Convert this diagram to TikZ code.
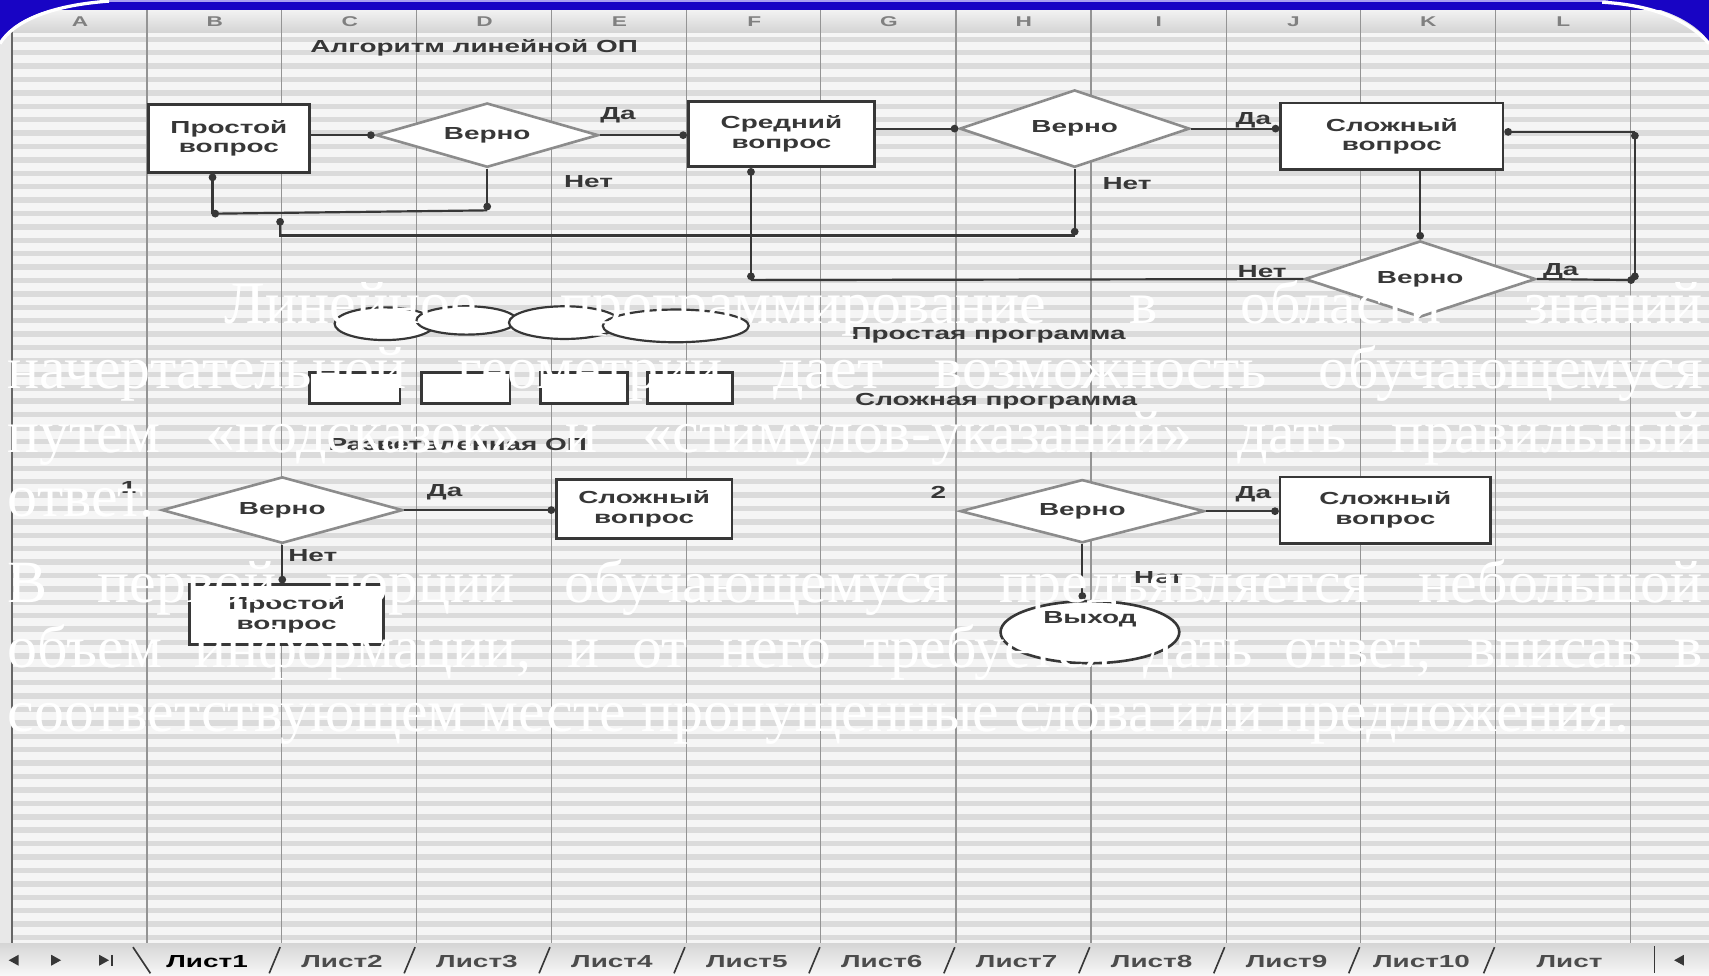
\documentclass[tikz,border=0pt]{standalone}
\usepackage{fontspec}
\setmainfont{Liberation Serif}
\newfontfamily\xlfont{Liberation Sans}[FakeStretch=1.6]
\usetikzlibrary{shapes.geometric,arrows.meta}

\definecolor{slideblue}{RGB}{24,4,196}
\definecolor{slidelav}{RGB}{170,160,240}
\definecolor{ink}{RGB}{55,55,55}

\tikzset{
  lbl/.style={font=\xlfont\bfseries\fontsize{16}{18}\selectfont, text=ink, inner sep=0pt},
  box/.style={lbl, draw=ink, line width=2.4pt, fill=white, align=center},
  dia/.style={lbl, diamond, aspect=3.4, draw=black!45, line width=2.4pt, fill=white},
  term/.style={lbl, ellipse, draw=ink, line width=2.4pt, fill=white, text depth=26pt},
  conn/.style={draw=ink, line width=2pt},
  dotend/.style={-{Circle[length=7pt,width=7pt]}},
  dotstart/.style={{Circle[length=7pt,width=7pt]}-},
  dotboth/.style={{Circle[length=7pt,width=7pt]}-{Circle[length=7pt,width=7pt]}},
  rowline/.style={black!14, line width=5pt},
  colline/.style={black!42, line width=1.2pt},
  hdr/.style={font=\xlfont\bfseries\fontsize{13}{14}\selectfont, text=black!50, inner sep=0pt},
  sheettab/.style={font=\xlfont\bfseries\fontsize{16}{18}\selectfont, text=black!70, inner sep=0pt},
  body/.style={font=\fontsize{55}{60}\selectfont, text=white, anchor=base west, inner sep=0pt}
}

\begin{document}
\begin{tikzpicture}[x=1pt,y=-1pt]
    \useasboundingbox (0,0) rectangle (1568,895);
    \fill[black!4] (0,0) rectangle (1568,895);

    %%%%%%%%%%%%%%%%%%% Sheet grid %%%%%%%%%%%%%%%%%%%%%%%%%%%%%%%
    \foreach \r in {0,...,67}
        \draw[rowline] (0,{36+12.3*\r}) -- (1568,{36+12.3*\r});
    \fill[top color=black!5,bottom color=black!17] (0,9) rectangle (1568,30);
    \fill[black!9] (0,30) rectangle (11,866);
    \foreach \c in {135,258,382,506,630,753,877,1001,1125,1248,1372,1496}
        \draw[colline] (\c,9) -- (\c,866);
    \draw[black!60, line width=1.5pt] (11,9) -- (11,866);
    \foreach \l [count=\i] in {A,...,L}
        \node[hdr] (h\i) at ({73.5+123.7*(\i-1)},20) {\l};

    %%%%%%%%%%%%%%%%%%% Linear algorithm %%%%%%%%%%%%%%%%%%%%%%%%%
    \node[lbl] (title) at (435,44) {Алгоритм линейной ОП};
    \node[box, minimum width=148pt, minimum height=62pt] (q1) at (210,127) {Простой\\вопрос};
    \node[dia, minimum width=204pt, minimum height=59pt] (d1) at (447,124) {Верно};
    \node[box, minimum width=171pt, minimum height=60pt] (q2) at (717,123) {Средний\\вопрос};
    \node[dia, minimum width=211pt, minimum height=71pt] (d2) at (986,118) {Верно};
    \node[box, minimum width=204pt, minimum height=61pt] (q3) at (1277,125) {Сложный\\вопрос};
    \node[dia, minimum width=212pt, minimum height=70pt] (d3) at (1303,256) {Верно};

    \node[lbl] (y1) at (567,106) {Да};
    \node[lbl] (n1) at (540,167) {Нет};
    \node[lbl] (y2) at (1150,110) {Да};
    \node[lbl] (n2) at (1034,168) {Нет};
    \node[lbl] (n3) at (1158,249) {Нет};
    \node[lbl] (y3) at (1432,249) {Да};

    \draw[conn,dotend] (q1.east |- d1.west) -- (d1.west);
    \draw[conn,dotend] (d1.east) -- (d1.east -| q2.west);
    \draw[conn,dotend] (q2.east |- d2.west) -- (d2.west);
    \draw[conn,dotend] (d2.east) -- (d2.east -| q3.west);

    % returns
    \coordinate (j1) at (201,196);
    \coordinate (j2) at (447,193);
    \draw[conn,dotboth] ([xshift=-15pt]q1.south) |- (j1);
    \draw[conn,dotend] (d1.south) -- (j2);
    \draw[conn] (j2) -- (j1);
    \coordinate (j3) at (257,200);
    \coordinate (j4) at (986,216);
    \draw[conn,dotstart] (j3) |- (j4);
    \draw[conn,dotstart] (j4) -- (d2.south);
    \coordinate (j5) at (689,257);
    \draw[conn,dotboth] (q2.south -| j5) -- (j5);
    \draw[conn] (j5) -- (d3.west);
    \draw[conn,dotend] (q3.south -| d3.north) -- (d3.north);
    \coordinate (j6) at (1500,257);
    \coordinate (j7) at (1500,121);
    \draw[conn,dotend] (d3.east) -- (j6);
    \draw[conn,dotboth] (j6) -- (j7);
    \draw[conn,dotend] (j7) -- (j7 -| q3.east);

    %%%%%%%%%%%%%%%%%%% Programs %%%%%%%%%%%%%%%%%%%%%%%%%%%%%%%%%
    \draw[ink, line width=2pt, fill=white] (353,297) ellipse [x radius=46, y radius=15];
    \draw[ink, line width=2pt, fill=white] (428,294) ellipse [x radius=46, y radius=13];
    \draw[ink, line width=2pt, fill=white] (518,296) ellipse [x radius=51, y radius=15];
    \draw[ink, line width=2pt, fill=white] (620,299) ellipse [x radius=67, y radius=15];
    \node[lbl] (prog1) at (907,308) {Простая программа};
    \draw[ink, line width=2.4pt, fill=white] (284,342) rectangle (367,370);
    \draw[ink, line width=2.4pt, fill=white] (387,342) rectangle (468,370);
    \draw[ink, line width=2.4pt, fill=white] (496,342) rectangle (576,370);
    \draw[ink, line width=2.4pt, fill=white] (594,342) rectangle (672,370);
    \node[lbl] (prog2) at (914,368) {Сложная программа};
    \node[lbl] (title2) at (420,408) {Разветвленная ОП};

    %%%%%%%%%%%%%%%%%%% Branch 1 %%%%%%%%%%%%%%%%%%%%%%%%%%%%%%%%%
    \node[lbl] (num1) at (118,447) {1};
    \node[dia, minimum width=221pt, minimum height=61pt] (d4) at (259,468) {Верно};
    \node[box, minimum width=161pt, minimum height=54pt] (q4) at (591,467) {Сложный\\вопрос};
    \node[box, minimum width=178pt, minimum height=55pt] (q5) at (263,564) {Простой\\вопрос};
    \node[lbl] (y4) at (408,452) {Да};
    \node[lbl] (n4) at (287,510) {Нет};
    \draw[conn,dotend] (d4.east) -- (d4.east -| q4.west);
    \draw[conn,dotend] (d4.south) -- (d4.south |- q5.north);

    %%%%%%%%%%%%%%%%%%% Branch 2 %%%%%%%%%%%%%%%%%%%%%%%%%%%%%%%%%
    \node[lbl] (num2) at (861,452) {2};
    \node[dia, minimum width=224pt, minimum height=58pt] (d5) at (993,469) {Верно};
    \node[box, minimum width=193pt, minimum height=61pt] (q6) at (1271,468) {Сложный\\вопрос};
    \node[term, minimum width=164pt, minimum height=57pt] (ex) at (1000,580) {Выход};
    \node[lbl] (y5) at (1150,453) {Да};
    \node[lbl] (n5) at (1063,530) {Нет};
    \draw[conn,dotend] (d5.east) -- (d5.east -| q6.west);
    \draw[conn,dotend] (d5.south) -- (d5.south |- ex.north);

    %%%%%%%%%%%%%%%%%%% Sheet tabs %%%%%%%%%%%%%%%%%%%%%%%%%%%%%%%
    \fill[top color=black!16,bottom color=black!3] (0,866) rectangle (1568,895);
    \fill[ink] (8,881) -- (17,876) -- (17,886) -- cycle;
    \fill[ink] (56,881) -- (47,876) -- (47,886) -- cycle;
    \fill[ink] (100,881) -- (91,876) -- (91,886) -- cycle;
    \draw[ink, line width=1.5pt] (103,876) -- (103,886);
    \draw[ink, line width=1.5pt] (122,869) -- (138,893);
    \node[sheettab, text=black] (t1) at (190,882) {Лист1};
    \foreach \i in {2,...,10}
        \node[sheettab] (t\i) at ({190+123.8*(\i-1)},882) {Лист\i};
    \node[sheettab] (t11) at (1440,882) {Лист};
    \foreach \i in {2,...,11}
        \draw[ink, line width=1.5pt] ({257+123.8*(\i-2)},869) -- ({247+123.8*(\i-2)},893);
    \draw[ink, line width=1.5pt] (1518,868) -- (1518,893);
    \fill[ink] (1536,881) -- (1545,876) -- (1545,886) -- cycle;

    %%%%%%%%%%%%%%%%%%% Slide frame %%%%%%%%%%%%%%%%%%%%%%%%%%%%%%
    \fill[slideblue] (0,0) rectangle (1568,9);
    \fill[slidelav] (95,0) rectangle (1475,2);
    \fill[slideblue] (0,0) -- (100,0) .. controls (45,4) and (12,18) .. (0,38) -- cycle;
    \draw[white, line width=3pt] (100,1) .. controls (45,5) and (12,20) .. (0,40);
    \fill[slideblue] (1470,0) .. controls (1525,3) and (1555,20) .. (1568,38) -- (1568,0) -- cycle;
    \draw[white, line width=3pt] (1470,2) .. controls (1523,5) and (1552,22) .. (1568,40);

    %%%%%%%%%%%%%%%%%%% Text %%%%%%%%%%%%%%%%%%%%%%%%%%%%%%%%%%%%%
    \node[body] (l1) at (206,297) {\makebox[1356pt][s]{Линейное программирование в области знаний}};
    \node[body] (l2) at (7,356) {\makebox[1555pt][s]{начертательной геометрии дает возможность обучающемуся}};
    \node[body] (l3) at (7,415) {\makebox[1555pt][s]{путем «подсказок» и «стимулов-указаний» дать правильный}};
    \node[body] (l4) at (7,474) {ответ.};
    \node[body] (l5) at (7,553) {\makebox[1555pt][s]{В первой порции обучающемуся предъявляется небольшой}};
    \node[body] (l6) at (7,612) {\makebox[1555pt][s]{объем информации, и от него требуется дать ответ, вписав в}};
    \node[body] (l7) at (7,671) {соответствующем месте пропущенные слова или предложения.};

\end{tikzpicture}
\end{document}
